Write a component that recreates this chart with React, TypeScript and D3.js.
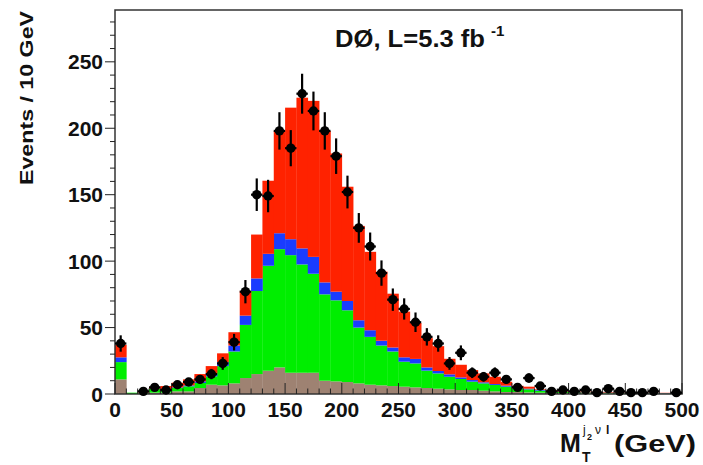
import React, { useRef, useEffect } from 'react';
import * as d3 from 'd3';

// 50 bins of 10 GeV, 0..500
const binEdges = d3.range(0, 510, 10);

// stacked components (per-bin contribution, bottom to top)
const brownVals = [11, 0, 0.3, 1, 1, 2, 2, 4.5, 7, 6.5, 8, 12, 15, 17.5, 20, 16, 16, 16, 10, 9.5,
  9, 8, 7, 6.5, 6, 5.5, 5, 4.5, 4, 3.5, 3, 3, 2.5, 2, 1.5, 1.5, 1.2, 1, 0.8, 0.7,
  0.6, 0.5, 0.5, 0.4, 0.4, 0.3, 0.3, 0.3, 0.3, 0.2];
const greenVals = [13, 1, 0.5, 2.8, 2.3, 2.5, 3.8, 3.8, 6.3, 14.5, 24, 40, 62.5, 79, 89, 88.5, 81.5, 74.5, 65, 61,
  54, 42, 36, 30, 26, 18.8, 18, 13.1, 11.5, 9.5, 8.3, 6.3, 5.5, 4.8, 4, 2.8, 2.3, 1.5, 1.2, 0.9,
  0.7, 0.6, 0.5, 0.5, 0.4, 0.4, 0.3, 0.3, 0.2, 0.3];
const blueVals = [3.6, 0, 0.1, 0.2, 0.3, 0.5, 0.7, 1.2, 2.2, 3, 4.5, 7, 9.5, 9, 12, 12, 12.1, 12.7, 9, 6.5,
  7, 5.5, 5, 3.6, 3, 3.3, 3.4, 2.4, 1.8, 1.8, 1.2, 1.2, 0.8, 0.7, 0.8, 0.7, 0.5, 0.5, 0.3, 0.2,
  0.2, 0.2, 0.2, 0.2, 0.2, 0.2, 0.2, 0.2, 0.2, 0.2];
const redVals = [9.4, 0, 0.4, 1.5, 2.4, 3.5, 4.5, 5.5, 5.5, 6.6, 10, 18.6, 33, 55, 77, 99, 113.4, 117.4, 114, 104,
  86, 71, 59, 52, 40.5, 34.4, 27.1, 22, 18.7, 11.7, 9.5, 7.5, 6.7, 5.5, 2.9, 1.2, 1.5, 0.5, 0.5, 0.6,
  0.5, 0.5, 0.5, 0.4, 0.3, 0.3, 0.3, 0.2, 0.2, 0.1];

// observed events (null = empty bin)
const dataVals: (number | null)[] = [38, null, 2, 5, 3, 7, 9, 11, 15, 23, 39, 77, 150, 149, 198, 185, 226, 213, 198, 179,
  152, 125, 111, 91, 71, 64, 54, 43, 38, 23, 31, 16, 13, 16, 11, 5, 12, 6, 2, 3,
  2, 3, 1, 4, 2, 1, 1, 2, null, 1];

const xTicks = [0, 50, 100, 150, 200, 250, 300, 350, 400, 450, 500];
const yTicks = [0, 50, 100, 150, 200, 250];

const seriesKeys = ['brown', 'green', 'blue', 'red'];
const seriesColors = ['#9e8272', '#00ee00', '#1a3cff', '#ff2200'];

const W = 703;
const H = 465;
const FONT = '"Liberation Sans", Arial, Helvetica, sans-serif';

const App = () => {
  const ref = useRef<SVGSVGElement>(null);

  useEffect(() => {
    const svg = d3.select(ref.current);
    svg.selectAll('*').remove();

    const x = d3.scaleLinear().domain([0, 500]).range([115, 682]);
    const y = d3.scaleLinear().domain([0, 289]).range([394, 10]);

    const rows = binEdges.slice(0, -1).map((lo, i) => ({
      lo,
      hi: binEdges[i + 1],
      brown: brownVals[i],
      green: greenVals[i],
      blue: blueVals[i],
      red: redVals[i],
    }));
    const stacked = d3.stack<any>().keys(seriesKeys)(rows);

    // stacked histogram
    stacked.forEach((layer, k) => {
      svg.append('g')
        .selectAll('rect')
        .data(layer)
        .join('rect')
          .attr('x', (d: any) => x(d.data.lo))
          .attr('width', (d: any) => x(d.data.hi) - x(d.data.lo) + 0.3)
          .attr('y', d => y(d[1]))
          .attr('height', d => Math.max(0, y(d[0]) - y(d[1])))
          .attr('fill', seriesColors[k]);
    });

    // frame
    svg.append('rect')
      .attr('x', 115).attr('y', 10)
      .attr('width', 682 - 115).attr('height', 394 - 10)
      .attr('fill', 'none')
      .attr('stroke', '#333')
      .attr('stroke-width', 1.5);

    // x ticks (inside, up from the axis)
    const xMinor = d3.range(0, 501, 10);
    svg.append('g')
      .selectAll('line')
      .data(xMinor)
      .join('line')
        .attr('x1', d => x(d)).attr('x2', d => x(d))
        .attr('y1', 394)
        .attr('y2', d => (d % 50 === 0 ? 394 - 11 : 394 - 5.5))
        .attr('stroke', '#222')
        .attr('stroke-width', 1);

    // y ticks (outside, to the left)
    const yMinor = d3.range(0, 290, 10);
    svg.append('g')
      .selectAll('line')
      .data(yMinor)
      .join('line')
        .attr('x1', 115)
        .attr('x2', d => (d % 50 === 0 ? 115 - 10 : 115 - 5))
        .attr('y1', d => y(d)).attr('y2', d => y(d))
        .attr('stroke', '#222')
        .attr('stroke-width', 1);

    svg.append('g')
      .selectAll('text')
      .data(yTicks)
      .join('text')
        .attr('x', 103)
        .attr('y', d => y(d) + 7.5)
        .attr('text-anchor', 'end')
        .attr('font-family', FONT)
        .attr('font-weight', 'bold')
        .attr('font-size', 21)
        .attr('fill', '#111')
        .text(d => d);

    svg.append('g')
      .selectAll('text')
      .data(xTicks)
      .join('text')
        .attr('x', d => x(d))
        .attr('y', 417)
        .attr('text-anchor', 'middle')
        .attr('font-family', FONT)
        .attr('font-weight', 'bold')
        .attr('font-size', 21)
        .attr('fill', '#111')
        .text(d => d);

    // data points with sqrt(N) errors
    const pts = dataVals
      .map((v, i) => ({ v, c: (binEdges[i] + binEdges[i + 1]) / 2 }))
      .filter(d => d.v !== null) as { v: number; c: number }[];

    const pg = svg.append('g');
    pg.selectAll('line.err')
      .data(pts)
      .join('line')
        .attr('class', 'err')
        .attr('x1', d => x(d.c)).attr('x2', d => x(d.c))
        .attr('y1', d => y(d.v + Math.sqrt(d.v)))
        .attr('y2', d => y(Math.max(0, d.v - Math.sqrt(d.v))))
        .attr('stroke', '#000')
        .attr('stroke-width', 2.2);
    pg.selectAll('line.xerr')
      .data(pts)
      .join('line')
        .attr('class', 'xerr')
        .attr('x1', d => x(d.c) - 5.7).attr('x2', d => x(d.c) + 5.7)
        .attr('y1', d => y(d.v)).attr('y2', d => y(d.v))
        .attr('stroke', '#000')
        .attr('stroke-width', 2.2);
    pg.selectAll('circle')
      .data(pts)
      .join('circle')
        .attr('cx', d => x(d.c))
        .attr('cy', d => y(d.v))
        .attr('r', 4.7)
        .attr('fill', '#000');

    // y axis title
    svg.append('text')
      .attr('transform', 'translate(33,98) rotate(-90)')
      .attr('text-anchor', 'middle')
      .attr('font-family', FONT)
      .attr('font-weight', 'bold')
      .attr('font-size', 19)
      .attr('textLength', 174)
      .attr('lengthAdjust', 'spacingAndGlyphs')
      .attr('fill', '#111')
      .text('Events / 10 GeV');

    // title
    svg.append('text')
      .attr('x', 335)
      .attr('y', 47)
      .attr('font-family', FONT)
      .attr('font-weight', 'bold')
      .attr('font-size', 23)
      .attr('textLength', 150)
      .attr('lengthAdjust', 'spacingAndGlyphs')
      .attr('fill', '#111')
      .text('DØ, L=5.3 fb');
    svg.append('text')
      .attr('x', 491)
      .attr('y', 36)
      .attr('font-family', FONT)
      .attr('font-weight', 'bold')
      .attr('font-size', 15)
      .attr('fill', '#111')
      .text('-1');

    // x axis title: M_T^{j2 ν l} (GeV)
    const xt = svg.append('g')
      .attr('font-family', FONT)
      .attr('font-weight', 'bold')
      .attr('fill', '#111');
    xt.append('text').attr('x', 560).attr('y', 452).attr('font-size', 25).text('M');
    xt.append('text').attr('x', 582).attr('y', 462).attr('font-size', 14).text('T');
    xt.append('text').attr('x', 583).attr('y', 434).attr('font-size', 12).attr('font-weight', 'normal').text('j');
    xt.append('text').attr('x', 587).attr('y', 440).attr('font-size', 9).text('2');
    xt.append('text').attr('x', 595).attr('y', 434).attr('font-size', 12).attr('font-weight', 'normal').text('ν');
    xt.append('text').attr('x', 606).attr('y', 434).attr('font-size', 12).text('l');
    xt.append('text')
      .attr('x', 614)
      .attr('y', 452)
      .attr('font-size', 23)
      .attr('textLength', 82)
      .attr('lengthAdjust', 'spacingAndGlyphs')
      .text('(GeV)');
  }, []);

  return (
    <svg
      ref={ref}
      width={W}
      height={H}
      style={{ position: 'absolute', left: 0, top: 0, background: '#fff' }}
    />
  );
};

export default App;
